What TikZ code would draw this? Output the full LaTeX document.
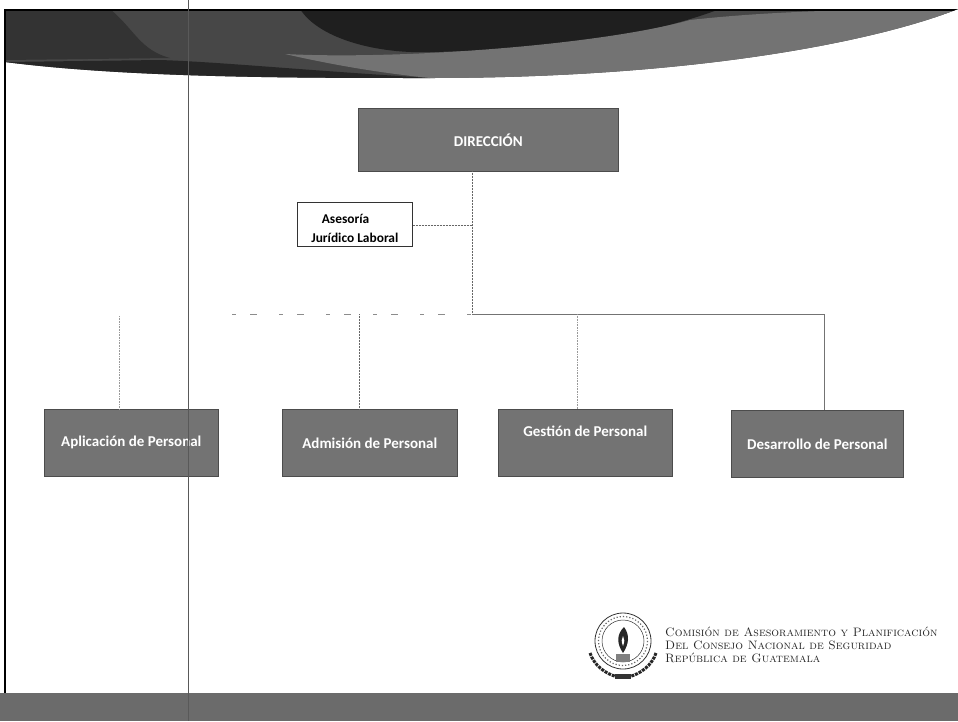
\documentclass[tikz,border=0pt]{standalone}
\usepackage{fontspec}
\newfontfamily\calfont{Carlito}
\usetikzlibrary{calc}
\definecolor{boxgrey}{gray}{0.45}
\tikzset{
  unitbox/.style={draw=black!70,line width=0.6pt,fill=boxgrey,inner sep=0pt,text=white,font=\calfont\bfseries\fontsize{15}{18}\selectfont,anchor=north west},
  linebox/.style={draw=black!80,line width=0.7pt,fill=white,inner sep=0pt,align=center,font=\calfont\bfseries\fontsize{13.4}{19}\selectfont,anchor=north west},
  conn/.style={draw=black!60,line width=0.5pt,densely dotted},
  connfaint/.style={draw=black!40,line width=0.6pt,densely dotted},
  brokenbus/.style={draw=black!45,line width=0.5pt,dash pattern=on 4pt off 14pt on 7pt off 22pt},
  logotext/.style={anchor=west,font=\fontsize{12.2}{13}\selectfont\scshape,text=black!85,inner sep=0pt}
}
\begin{document}
\begin{tikzpicture}[x=1pt,y=-1pt]
\useasboundingbox (0,0) rectangle (958,721);
\fill[white] (0,0) rectangle (958,721);
% banner
\begin{scope}
\clip (5,9) -- (958,9) .. controls (880,40) and (700,78) .. (430,78) .. controls (300,78) and (130,78) .. (5,62) -- cycle;
\fill[black!72] (0,0) rectangle (958,90);
\fill[black!80] (5,9) -- (110,9) .. controls (135,30) and (140,50) .. (170,58) -- (5,60) -- cycle;
\fill[black!85] (160,60) .. controls (220,62) and (300,70) .. (430,78) -- (5,80) -- (5,62) -- cycle;
\fill[black!88] (300,9) -- (720,9) .. controls (650,35) and (560,50) .. (430,52) .. controls (380,54) and (320,40) .. (300,9) -- cycle;
\fill[black!55] (285,54) .. controls (400,60) and (600,45) .. (690,20) .. controls (780,10) and (880,9) .. (958,9) .. controls (880,40) and (700,78) .. (430,78) .. controls (370,72) and (320,62) .. (285,54) -- cycle;
\fill[black] (5,8) rectangle (958,10.5);
\end{scope}
% page rules
\draw[black,line width=2.6pt] (5,9) -- (5,721);
\draw[black!65,line width=0.7pt] (188,0) -- (188,409);
% bottom band
\fill[black!58] (0,693) rectangle (958,721);
% boxes
\node[unitbox,minimum width=260pt,minimum height=63pt] (dir) at (358,108) {DIRECCIÓN};
\node[linebox,minimum width=115pt,minimum height=44pt] (ases) at (297,202) {\rule{0pt}{17pt}\makebox[96pt][l]{\hspace{15pt}Asesoría}\\Jurídico Laboral};
\node[unitbox,minimum width=174pt,minimum height=67pt] (apl) at (44,409) {\raisebox{-2pt}{Aplicación de Personal}};
\node[unitbox,minimum width=175pt,minimum height=67pt] (adm) at (282,409) {Admisión de Personal};
\node[unitbox,minimum width=174pt,minimum height=67pt,text depth=20pt] (ges) at (498,409) {\raisebox{4pt}{Gestión de Personal}};
\node[unitbox,minimum width=172pt,minimum height=67pt] (des) at (731,410) {Desarrollo de Personal};
% rule over the left box
\draw[black!65,line width=0.7pt] (188,409) -- (188,721);
% connectors
\coordinate (jbus) at (472,314);
\coordinate (jmid) at (472,225);
\coordinate (busl) at (232,314);
\coordinate (busr) at (824,314);
\coordinate (aplt) at (119,316);
\coordinate (admt) at (359,314);
\coordinate (gest) at (577,314);
\draw[conn] (472,171) -- (jbus);
\draw[conn] (ases.east |- jmid) -- (jmid);
\draw[brokenbus] (busl) -- (jbus);
\draw[black!55,line width=0.5pt] (jbus) -- (busr);
\draw[connfaint] (aplt) -- (aplt |- apl.north);
\draw[conn] (admt) -- (admt |- adm.north);
\draw[connfaint] (gest) -- (gest |- ges.north);
\draw[black!55,line width=0.5pt] (busr) -- (busr |- des.north);
% logo
\begin{scope}[shift={(623,641)}]
\draw[black!80,line width=0.8pt] (0,0) circle (28);
\draw[black!60,line width=1.2pt,dotted] (0,0) circle (24.5);
\draw[black!80,line width=0.5pt] (0,0) circle (21);
\fill[black!85] (1,-14) .. controls (-7,-6) and (-6,3) .. (0,12) .. controls (6,3) and (7,-6) .. (1,-14) -- cycle;
\fill[white] (0,-5) .. controls (-2,-2) and (-1.5,1) .. (0,5) .. controls (1.5,1) and (2,-2) .. (0,-5) -- cycle;
\fill[black!50] (-7,13) rectangle (7,21);
\foreach \s in {-1,1}{
  \draw[black!85,line width=3pt,dash pattern=on 3pt off 1pt] (\s*33,12) .. controls (\s*29,24) and (\s*18,33) .. (\s*5,36);
}
\fill[black!80] (-8,33) rectangle (8,38);
\end{scope}
% logo text
\node[logotext] (t1) at (665,632) {Comisión de Asesoramiento y Planificación};
\node[logotext] (t2) at (665,645) {Del Consejo Nacional de Seguridad};
\node[logotext] (t3) at (665,658) {República de Guatemala};
\end{tikzpicture}
\end{document}
